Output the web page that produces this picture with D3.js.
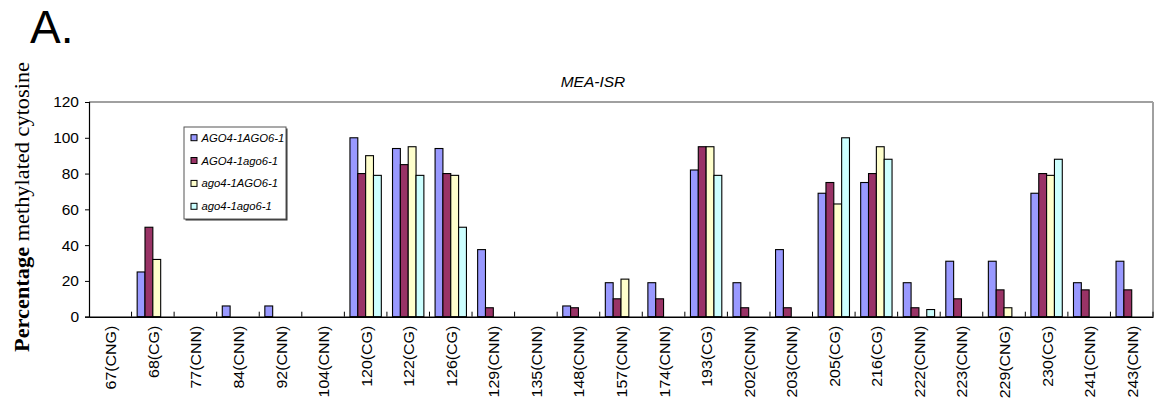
<!DOCTYPE html>
<html>
<head>
<meta charset="utf-8">
<script src="https://cdn.jsdelivr.net/npm/d3@7"></script>
<style>
  html, body { margin: 0; padding: 0; background: #fff; }
  svg { display: block; }
</style>
</head>
<body>
<svg id="chart" width="1154" height="403"></svg>
<script>
const categories = ["67(CNG)","68(CG)","77(CNN)","84(CNN)","92(CNN)","104(CNN)","120(CG)","122(CG)","126(CG)","129(CNN)","135(CNN)","148(CNN)","157(CNN)","174(CNN)","193(CG)","202(CNN)","203(CNN)","205(CG)","216(CG)","222(CNN)","223(CNN)","229(CNG)","230(CG)","241(CNN)","243(CNN)"];
const seriesNames = ["AGO4-1AGO6-1","AGO4-1ago6-1","ago4-1AGO6-1","ago4-1ago6-1"];
const seriesColors = ["#9999FF","#993366","#FFFFCC","#CCFFFF"];
const s1 = [0,25,0,6,6,0,100,94,94,37.5,0,6,19,19,82,19,37.5,69,75,19,31,31,69,19,31];
const s2 = [0,50,0,0,0,0,80,85,80,5,0,5,10,10,95,5,5,75,80,5,10,15,80,15,15];
const s3 = [0,32,0,0,0,0,90,95,79,0,0,0,21,0,95,0,0,63,95,0,0,5,79,0,0];
const s4 = [0,0,0,0,0,0,79,79,50,0,0,0,0,0,79,0,0,100,88,4,0,0,88,0,0];
const yTicks = [0,20,40,60,80,100,120];
const title = "MEA-ISR";
const panelLabel = "A.";

const series = [s1,s2,s3,s4];
const svg = d3.select("#chart");
const L = 89, R = 1153, T = 102, B = 316.7;

const x = d3.scaleBand().domain(categories).range([L, R]).padding(0);
const xs = d3.scaleBand().domain(d3.range(4)).range([0, x.bandwidth()]).paddingInner(0).paddingOuter(0.714);
const y = d3.scaleLinear().domain([0, 120]).range([B, T]);

// panel label
svg.append("text").attr("x", 30).attr("y", 43)
  .attr("font-family", "Liberation Sans, Arial, sans-serif").attr("font-size", 46)
  .text(panelLabel);

// title
svg.append("text").attr("x", 593).attr("y", 86.5).attr("text-anchor", "middle")
  .attr("font-family", "Liberation Sans, Arial, sans-serif").attr("font-style", "italic")
  .attr("font-size", 15.5).text(title);

// top & right borders (gray)
svg.append("line").attr("x1", L).attr("x2", R).attr("y1", T).attr("y2", T)
  .attr("stroke", "#a0a0a0").attr("stroke-width", 2);
svg.append("line").attr("x1", R).attr("x2", R).attr("y1", T).attr("y2", B)
  .attr("stroke", "#a0a0a0").attr("stroke-width", 2);

// bars
const data = [];
categories.forEach((c, i) => series.forEach((s, k) => { if (s[i] > 0) data.push({c, k, v: s[i]}); }));
svg.append("g").selectAll("rect").data(data).join("rect")
  .attr("x", d => x(d.c) + xs(d.k))
  .attr("y", d => y(d.v))
  .attr("width", xs.bandwidth())
  .attr("height", d => y(0) - y(d.v))
  .attr("fill", d => seriesColors[d.k])
  .attr("stroke", "#000").attr("stroke-width", 1.1);

// y axis
const yAxis = d3.axisLeft(y).tickValues(yTicks).tickSize(4).tickPadding(6);
const gy = svg.append("g").attr("transform", `translate(${L},0)`).call(yAxis);
gy.select(".domain").attr("stroke", "#000").attr("stroke-width", 1.2);
gy.selectAll(".tick line").attr("stroke", "#000");
gy.selectAll(".tick text").attr("font-family", "Liberation Sans, Arial, sans-serif")
  .attr("font-size", 15.5).attr("fill", "#000");

// x axis
const xAxis = d3.axisBottom(x).tickSize(0).tickPadding(0);
const gx = svg.append("g").attr("transform", `translate(0,${B})`).call(xAxis);
gx.select(".domain").attr("stroke", "#000").attr("stroke-width", 1.4);
gx.selectAll(".tick text")
  .attr("font-family", "Liberation Sans, Arial, sans-serif").attr("font-size", 14.5).attr("fill", "#000")
  .attr("text-anchor", "end").attr("dy", null)
  .attr("transform", "translate(6,9) rotate(-90) scale(1.1,1)")
  .attr("x", 0).attr("y", 0);
// category boundary ticks (inside, upward)
const bounds = d3.range(1, categories.length + 1).map(i => L + i * x.step());
svg.append("g").selectAll("line").data(bounds).join("line")
  .attr("x1", d => d).attr("x2", d => d).attr("y1", B).attr("y2", B - 5)
  .attr("stroke", "#000").attr("stroke-width", 1);

// y label
const yl = svg.append("text").attr("transform", "translate(29,207) rotate(-90)")
  .attr("text-anchor", "middle").attr("font-family", "Liberation Serif, Times New Roman, serif")
  .attr("font-size", 20).attr("fill", "#000")
  .attr("textLength", 290).attr("lengthAdjust", "spacingAndGlyphs");
yl.append("tspan").attr("font-weight", "bold").text("Percentage");
yl.append("tspan").text(" methylated cytosine");

// legend
const lg = svg.append("g");
lg.append("rect").attr("x", 185.5).attr("y", 128.5).attr("width", 102).attr("height", 92)
  .attr("fill", "#333");
lg.append("rect").attr("x", 184).attr("y", 127).attr("width", 102).attr("height", 92)
  .attr("fill", "#fff").attr("stroke", "#555").attr("stroke-width", 1);
const rows = [137.7, 160.5, 183.4, 206.3];
seriesNames.forEach((n, k) => {
  lg.append("rect").attr("x", 191).attr("y", rows[k] - 3).attr("width", 6).attr("height", 6)
    .attr("fill", seriesColors[k]).attr("stroke", "#000").attr("stroke-width", 1);
  lg.append("text").attr("x", 201.5).attr("y", rows[k] + 4)
    .attr("font-family", "Liberation Sans, Arial, sans-serif").attr("font-style", "italic")
    .attr("font-size", 11.3).attr("fill", "#000").text(n);
});
</script>
</body>
</html>
